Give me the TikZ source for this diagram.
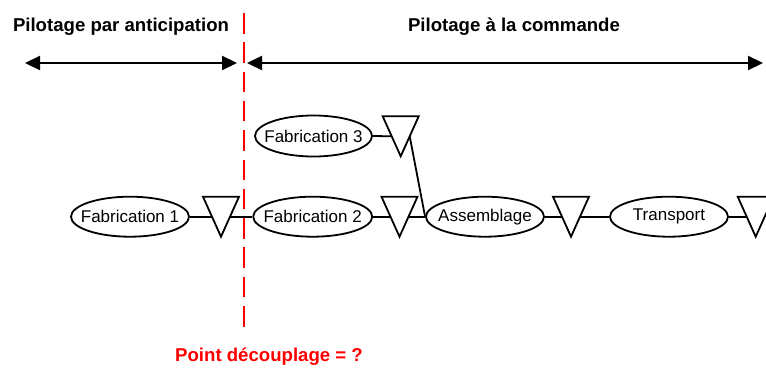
\documentclass[tikz,border=0pt]{standalone}
\usepackage{fontspec}
\setmainfont{Liberation Sans}
\usetikzlibrary{arrows.meta,shapes.geometric}
\newcommand{\ptxt}[1]{\makebox[0pt]{#1}}
\tikzset{
  proc/.style={ellipse, draw, line width=1.8pt, minimum width=118pt, minimum height=40pt, inner sep=0pt, font=\fontsize{17}{20}\selectfont},
  conn/.style={line width=1.8pt},
  span/.style={line width=2.2pt, {Triangle[length=15pt,width=14pt]}-{Triangle[length=15pt,width=14pt]}},
  title/.style={font=\fontsize{18.6}{22}\selectfont\bfseries},
  buffer/.pic={
    \draw[line width=1.8pt, line join=miter] (-18pt,20pt) -- (18pt,20pt) -- (0pt,-20pt) -- cycle;
    \coordinate (-w) at (-9pt,0pt);
    \coordinate (-e) at (9pt,0pt);
  }
}
\begin{document}
\begin{tikzpicture}[x=1pt,y=-1pt]
\useasboundingbox (0,0) rectangle (766,367);
\begin{scope}
\clip (0,0) rectangle (766,367);
% titles
\node[title] (ta) at (121,27) {Pilotage par anticipation};
\node[title] (tc) at (514,27) {Pilotage à la commande};
\node[title, text=red] (pd) at (269,357) {Point découplage = ?};
% span arrows
\coordinate (a1) at (25,63);
\coordinate (a2) at (237,63);
\coordinate (b1) at (247,63);
\coordinate (b2) at (763,63);
\draw[span] (a1) -- (a2);
\draw[span] (b1) -- (b2);
% decoupling line
\coordinate (d1) at (243.7,13);
\coordinate (d2) at (243.7,327);
\draw[red, line width=2.3pt, dash pattern=on 20.5pt off 8.8pt] (d1) -- (d2);
% processes
\node[proc] (f1) at (130,216.7) {\ptxt{Fabrication 1}};
\node[proc, minimum width=119pt] (f2) at (312.7,216.7) {\ptxt{Fabrication 2}};
\node[proc] (as) at (485,216.7) {\ptxt{Assemblage}};
\node[proc] (tr) at (669,216.7) {\ptxt{Transport}};
\node[proc, minimum width=117pt, minimum height=41pt] (f3) at (313.5,136) {\ptxt{Fabrication 3}};
% buffers
\pic (t1) at (221,216.7) {buffer};
\pic (t2) at (399.5,216.7) {buffer};
\pic (t3) at (571,216.7) {buffer};
\pic (t4) at (755.7,216.7) {buffer};
\pic (t5) at (400.7,136.3) {buffer};
% connectors
\draw[conn] (f1.east) -- (t1-w);
\draw[conn] (t1-e) -- (f2.west);
\draw[conn] (f2.east) -- (t2-w);
\draw[conn] (t2-e) -- (as.west);
\draw[conn] (as.east) -- (t3-w);
\draw[conn] (t3-e) -- (tr.west);
\draw[conn] (tr.east) -- (t4-w);
\draw[conn] (f3.east) -- (t5-w);
\draw[conn] (t5-e) -- (as.west);
\end{scope}
\end{tikzpicture}
\end{document}
